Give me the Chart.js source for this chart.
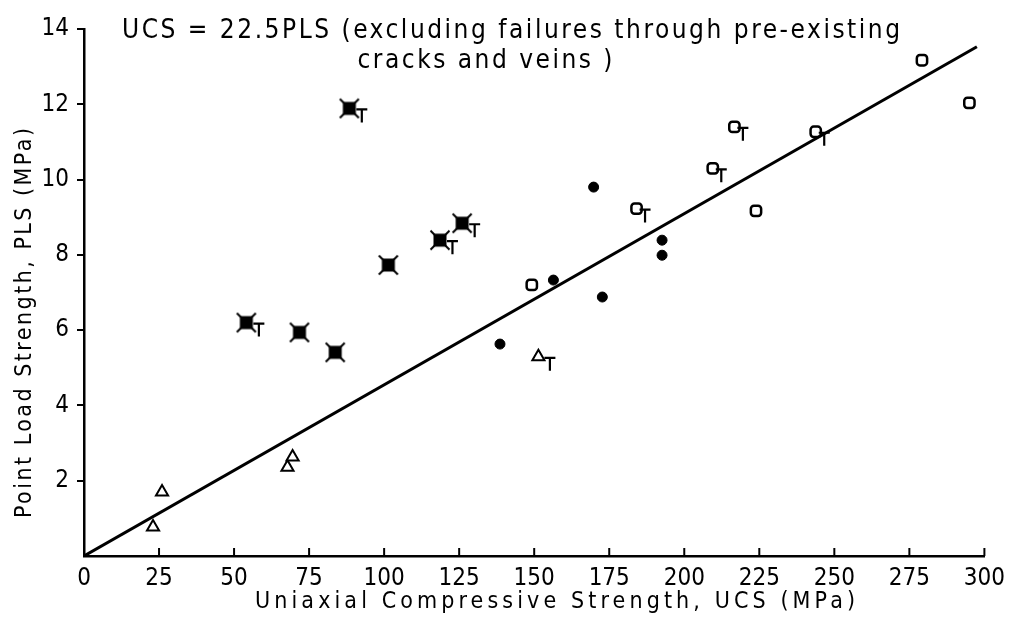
<!DOCTYPE html>
<html>
<head>
<meta charset="utf-8">
<style>
  html, body { margin: 0; padding: 0; background: #fff; }
  #wrap { width: 1013px; height: 620px; }
</style>
<script src="https://cdn.jsdelivr.net/npm/chart.js@4.4.1/dist/chart.umd.min.js"></script>
</head>
<body>
<div id="wrap"><canvas id="ucsChart" width="1013" height="620"></canvas></div>
<script>
// open triangles
const triX = [23.0, 26.0, 67.8, 69.5, 151.4];
const triY = [0.77, 1.70, 2.36, 2.63, 5.29];
const triT = [0, 0, 0, 0, 1];
// filled circles
const dotX = [138.6, 156.4, 169.8, 172.7, 192.6, 192.6];
const dotY = [5.63, 7.33, 9.80, 6.88, 8.39, 7.99];
const dotT = [0, 0, 0, 0, 0, 0];
// filled crossed squares
const xsqX = [54.1, 71.8, 83.7, 88.4, 101.4, 118.6, 126.0];
const xsqY = [6.20, 5.94, 5.41, 11.89, 7.73, 8.39, 8.84];
const xsqT = [1, 0, 0, 1, 0, 1, 1];
// open squares
const sqX = [149.2, 184.1, 209.5, 216.7, 223.9, 243.8, 279.2, 295.0];
const sqY = [7.20, 9.23, 10.30, 11.40, 9.17, 11.27, 13.17, 12.04];
const sqT = [0, 1, 1, 1, 0, 1, 0, 0];
// fitted line UCS = 22.5 PLS
const fitX = [0, 297.5];
const fitY = [0, 13.53];

const xTicks = [0, 25, 50, 75, 100, 125, 150, 175, 200, 225, 250, 275, 300];
const yTicks = [2, 4, 6, 8, 10, 12, 14];

const titleLines = ['UCS = 22.5PLS (excluding failures through pre-existing', 'cracks and veins )'];
const xTitle = 'Uniaxial Compressive Strength, UCS (MPa)';
const yTitle = 'Point Load Strength, PLS (MPa)';

const FONT = '"DejaVu Sans Condensed", "DejaVu Sans", sans-serif';

function pts(xs, ys) { return xs.map((x, i) => ({ x: x, y: ys[i] })); }

// filled square with little corner spikes
function crossedSquare() {
    const c = document.createElement('canvas');
    c.width = 22; c.height = 22;
    const g = c.getContext('2d');
    g.fillStyle = '#000';
    g.fillRect(4.5, 4.5, 13, 13);
    g.strokeStyle = '#000';
    g.lineWidth = 2;
    g.beginPath();
    g.moveTo(1.5, 1.5); g.lineTo(7, 7);
    g.moveTo(20.5, 1.5); g.lineTo(15, 7);
    g.moveTo(1.5, 20.5); g.lineTo(7, 15);
    g.moveTo(20.5, 20.5); g.lineTo(15, 15);
    g.stroke();
    return c;
}

function spacedText(ctx, text, x, y, width) {
    ctx.letterSpacing = '0px';
    const w0 = ctx.measureText(text).width;
    const sp = (width - w0) / (text.length - 1);
    ctx.letterSpacing = sp + 'px';
    ctx.fillText(text, x - width / 2, y);
    ctx.letterSpacing = '0px';
}

const decorPlugin = {
    id: 'decor',
    afterDatasetsDraw(chart) {
        const ctx = chart.ctx;
        const xs = chart.scales.x;
        const a = chart.chartArea;
        ctx.save();
        ctx.strokeStyle = '#000';
        ctx.lineWidth = 2;
        // inward x ticks
        xTicks.forEach(v => {
            const px = xs.getPixelForValue(v);
            ctx.beginPath();
            ctx.moveTo(px, a.bottom);
            ctx.lineTo(px, a.bottom - 8);
            ctx.stroke();
        });
        // "T" flags next to marked points
        ctx.lineWidth = 2.2;
        chart.data.datasets.forEach((ds, di) => {
            if (!ds.tFlags) return;
            const meta = chart.getDatasetMeta(di);
            meta.data.forEach((el, i) => {
                if (!ds.tFlags[i]) return;
                const ox = el.x + ds.tOff, oy = el.y + 1;
                ctx.beginPath();
                ctx.moveTo(ox, oy);
                ctx.lineTo(ox + 11, oy);
                ctx.moveTo(ox + 5.5, oy);
                ctx.lineTo(ox + 5.5, oy + 13);
                ctx.stroke();
            });
        });
        // texts
        ctx.fillStyle = '#000';
        ctx.textBaseline = 'alphabetic';
        ctx.textAlign = 'left';
        ctx.font = '26px ' + FONT;
        spacedText(ctx, titleLines[0], 511, 38, 778);
        spacedText(ctx, titleLines[1], 485, 68, 255);
        ctx.font = '23px ' + FONT;
        spacedText(ctx, xTitle, 555, 608, 600);
        ctx.translate(31, 323);
        ctx.rotate(-Math.PI / 2);
        spacedText(ctx, yTitle, 0, 0, 390);
        ctx.restore();
    }
};

const ctx = document.getElementById('ucsChart').getContext('2d');
new Chart(ctx, {
    type: 'scatter',
    data: {
        datasets: [
            {
                type: 'line', data: pts(fitX, fitY), borderColor: '#000', borderWidth: 3,
                pointRadius: 0, fill: false, tension: 0
            },
            {
                data: pts(triX, triY), pointStyle: 'triangle', pointRadius: 7,
                backgroundColor: '#fff', borderColor: '#000', borderWidth: 2,
                tFlags: triT, tOff: 6
            },
            {
                data: pts(dotX, dotY), pointStyle: 'circle', pointRadius: 5,
                backgroundColor: '#000', borderColor: '#000', borderWidth: 1,
                tFlags: dotT, tOff: 6
            },
            {
                data: pts(xsqX, xsqY), pointStyle: crossedSquare(), pointRadius: 8,
                backgroundColor: '#000', borderColor: '#000',
                tFlags: xsqT, tOff: 7
            },
            {
                data: pts(sqX, sqY), pointStyle: 'rectRounded', pointRadius: 6,
                backgroundColor: '#fff', borderColor: '#000', borderWidth: 2.5,
                tFlags: sqT, tOff: 3
            }
        ]
    },
    options: {
        responsive: false,
        animation: false,
        layout: { padding: { top: 29, right: 25, left: 0, bottom: 0 } },
        plugins: { legend: { display: false }, tooltip: { enabled: false } },
        scales: {
            x: {
                type: 'linear', min: 0, max: 300,
                afterFit(s) { s.height = 64; },
                afterBuildTicks(s) { s.ticks = xTicks.map(v => ({ value: v })); },
                grid: { display: true, drawOnChartArea: false, drawTicks: false },
                border: { display: true, color: '#000', width: 2.5 },
                ticks: { color: '#000', padding: 8, maxRotation: 0, font: { family: FONT, size: 24 } }
            },
            y: {
                type: 'linear', min: 0, max: 14,
                afterFit(s) { s.width = 84; },
                afterBuildTicks(s) { s.ticks = yTicks.map(v => ({ value: v })); },
                grid: { display: true, drawOnChartArea: false, drawTicks: true, tickLength: 7, color: '#000', lineWidth: 2 },
                border: { display: true, color: '#000', width: 2.5 },
                ticks: { color: '#000', padding: 8, font: { family: FONT, size: 24 } }
            }
        }
    },
    plugins: [decorPlugin]
});
</script>
</body>
</html>
